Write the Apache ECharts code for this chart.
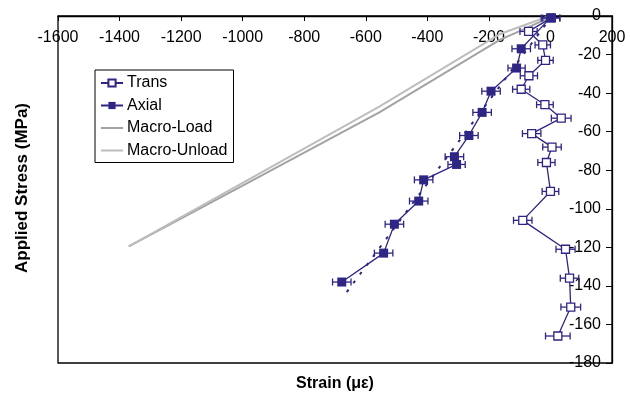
<!DOCTYPE html>
<html>
<head>
<meta charset="utf-8">
<script src="https://cdn.jsdelivr.net/npm/echarts@6/dist/echarts.min.js"></script>
<style>html,body{margin:0;padding:0;background:#fff}#c{width:630px;height:400px}</style>
</head>
<body>
<div id="c"></div>
<script>
// Data
const xTicks = [-1600, 200, 200]; // min, max, interval
const yTicks = [-180, 0, 20];
const transX = [3, -71, -25, -16, -70, -95, -18, 35, -61, 5, -13, 0, -90, 49, 62, 66, 24];
const transY = [-1, -8, -15, -23, -31, -38, -46, -53, -61, -68, -76, -91, -106, -121, -136, -151, -166];
const transErr = [28, 28, 25, 25, 28, 28, 27, 32, 30, 30, 28, 27, 30, 31, 30, 32, 40];
const axialX = [0, -95, -110, -193, -222, -265, -312, -305, -412, -428, -507, -542, -678];
const axialY = [-1, -17, -27, -39, -50, -62, -73, -77, -85, -96, -108, -123, -138];
const axialErr = [30, 30, 28, 30, 30, 30, 30, 28, 30, 30, 30, 30, 30];
const fitX = [5, -675];
const fitY = [0, -146];
const loadX = [0, -26, -166, -556, -1000, -1370];
const loadY = [-1, -2.5, -12.5, -50, -88, -119.5];
const unloadX = [-1370, -1000, -556, -166, -3];
const unloadY = [-119.5, -86.6, -47, -9.5, 0];

const BLUE = '#2e2585';
const zip = (a, b) => a.map((v, i) => [v, b[i]]);
const zip3 = (a, b, c) => a.map((v, i) => [v, b[i], c[i]]);

function errRender(params, api) {
  const x = api.value(0), y = api.value(1), e = api.value(2);
  const p1 = api.coord([x - e, y]);
  const p2 = api.coord([x + e, y]);
  const h = 3.5;
  const st = { stroke: BLUE, lineWidth: 1.3 };
  return {
    type: 'group',
    children: [
      { type: 'line', shape: { x1: p1[0], y1: p1[1], x2: p2[0], y2: p2[1] }, style: st },
      { type: 'line', shape: { x1: p1[0], y1: p1[1] - h, x2: p1[0], y2: p1[1] + h }, style: st },
      { type: 'line', shape: { x1: p2[0], y1: p2[1] - h, x2: p2[0], y2: p2[1] + h }, style: st }
    ]
  };
}

const FONT = 'Liberation Sans, Arial, sans-serif';
const chart = echarts.init(document.getElementById('c'), null, { renderer: 'canvas' });
chart.setOption({
  animation: false,
  textStyle: { fontFamily: FONT },
  grid: { left: 58, right: 18, top: 16, bottom: 37, show: true, borderColor: '#000', borderWidth: 1.3 },
  xAxis: {
    type: 'value', position: 'top', min: xTicks[0], max: xTicks[1], interval: xTicks[2],
    axisLine: { show: true, onZero: false, lineStyle: { color: '#000', width: 1.3 } },
    axisTick: { show: true, inside: true, length: 5, lineStyle: { color: '#000' } },
    axisLabel: { inside: true, margin: 14, color: '#000', fontSize: 16, fontFamily: FONT, showMinLabel: true, showMaxLabel: true,
      formatter: v => String(v) },
    splitLine: { show: false }
  },
  yAxis: {
    type: 'value', position: 'right', min: yTicks[0], max: yTicks[1], interval: yTicks[2],
    axisLine: { show: true, onZero: false, lineStyle: { color: '#000', width: 1.3 } },
    axisTick: { show: true, inside: true, length: 6, lineStyle: { color: '#000' } },
    axisLabel: { inside: true, margin: 11, color: '#000', fontSize: 16, fontFamily: FONT, showMinLabel: true, showMaxLabel: true,
      formatter: v => String(v) },
    splitLine: { show: false }
  },
  legend: {
    orient: 'vertical', left: 95, top: 70,
    data: [
      { name: 'Trans' },
      { name: 'Axial' },
      { name: 'Macro-Load', itemStyle: { opacity: 0 } },
      { name: 'Macro-Unload', itemStyle: { opacity: 0 } }
    ],
    borderColor: '#000', borderWidth: 1, borderRadius: 0,
    padding: [5, 6, 4, 5], itemGap: 6.5, itemWidth: 22, itemHeight: 9,
    textStyle: { fontSize: 16, color: '#000', fontFamily: FONT, padding: [0, 0, 0, -1] }
  },
  graphic: [
    { type: 'text', x: 22, y: 188, rotation: Math.PI / 2,
      style: { text: 'Applied Stress (MPa)', font: 'bold 17px ' + FONT, fill: '#000', textAlign: 'center', textVerticalAlign: 'middle' } },
    { type: 'text', x: 335, y: 384,
      style: { text: 'Strain (\u03bc\u03b5)', font: 'bold 16px ' + FONT, fill: '#000', textAlign: 'center', textVerticalAlign: 'middle' } }
  ],
  series: [
    { name: 'Macro-Load', type: 'line', data: zip(loadX, loadY), showSymbol: false, symbol: 'none',
      lineStyle: { color: '#a3a3a3', width: 2 }, itemStyle: { color: '#a3a3a3' }, z: 1 },
    { name: 'Macro-Unload', type: 'line', data: zip(unloadX, unloadY), showSymbol: false, symbol: 'none',
      lineStyle: { color: '#bdbdbd', width: 2 }, itemStyle: { color: '#bdbdbd' }, z: 1 },
    { name: 'AxialFit', type: 'line', data: zip(fitX, fitY), symbol: 'none',
      lineStyle: { color: BLUE, width: 2, type: [3, 8] }, z: 2 },
    { name: 'TransErr', type: 'custom', renderItem: errRender, data: zip3(transX, transY, transErr), encode: { x: 0, y: 1 }, z: 3 },
    { name: 'AxialErr', type: 'custom', renderItem: errRender, data: zip3(axialX, axialY, axialErr), encode: { x: 0, y: 1 }, z: 3 },
    { name: 'Trans', type: 'line', data: zip(transX, transY), symbol: 'rect', symbolSize: 8,
      lineStyle: { color: BLUE, width: 1.3 }, itemStyle: { color: '#fff', borderColor: BLUE, borderWidth: 1.3 }, z: 4 },
    { name: 'Axial', type: 'line', data: zip(axialX, axialY), symbol: 'rect', symbolSize: 9,
      lineStyle: { color: BLUE, width: 1.3 }, itemStyle: { color: BLUE }, z: 5 }
  ]
});
</script>
</body>
</html>
